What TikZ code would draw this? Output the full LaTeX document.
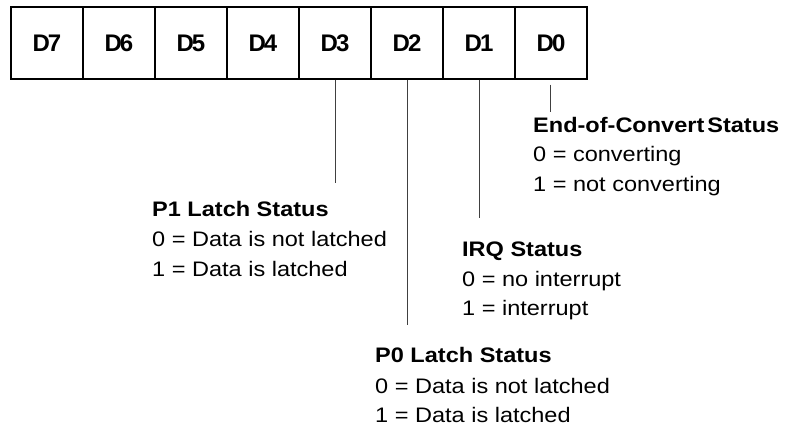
\documentclass[tikz,border=0pt]{standalone}
\usepackage{fontspec}
\setmainfont{Liberation Sans}[FakeStretch=1.12]
\newfontfamily\lblfont{Liberation Sans}
\begin{document}
\begin{tikzpicture}[x=1bp,y=-1bp,
  cell/.style={draw, line width=1.5bp, minimum width=72bp, minimum height=72bp, inner sep=0pt,
    font=\lblfont\fontsize{24bp}{28bp}\selectfont\bfseries},
  lead/.style={line width=0.9bp, draw=black!75},
  ttl/.style={anchor=base west, inner sep=0pt, font=\fontsize{21bp}{25bp}\selectfont\bfseries},
  info/.style={anchor=base west, inner sep=0pt, font=\fontsize{21bp}{25bp}\selectfont}]
\useasboundingbox (0,0) rectangle (788,434);
% register cells
\node[cell] (d7) at (47,43)  {D\kern-2bp 7};
\node[cell] (d6) at (119,43) {D\kern-2bp 6};
\node[cell] (d5) at (191,43) {D\kern-2bp 5};
\node[cell] (d4) at (263,43) {D\kern-2bp 4};
\node[cell] (d3) at (335,43) {D\kern-2bp 3};
\node[cell] (d2) at (407,43) {D\kern-2bp 2};
\node[cell] (d1) at (479,43) {D\kern-2bp 1};
\node[cell] (d0) at (551,43) {D\kern-2bp 0};
% end points of leaders
\coordinate (e3) at (335,183);
\coordinate (e2) at (407,325);
\coordinate (e1) at (479,218);
\coordinate (e0) at (550,112);
\draw[lead] (d3.south) -- (e3);
\draw[lead] (d2.south) -- (e2);
\draw[lead] (d1.south) -- (e1);
\draw[lead] ([yshift=-5bp]d0.south -| e0) -- (e0);
% End-of-Convert
\node[ttl]  (eoc)  at (533,133) {End-of-Convert\kern3bp Status};
\node[info] (eoca) at (533,162) {0 = converting};
\node[info] (eocb) at (533,192) {1 = not converting};
% P1
\node[ttl]  (p1)  at (152,217) {P1 Latch Status};
\node[info] (p1a) at (152,247) {0 = Data is not latched};
\node[info] (p1b) at (152,277) {1 = Data is latched};
% IRQ
\node[ttl]  (irq)  at (462,257) {IRQ Status};
\node[info] (irqa) at (462,287) {0 = no interrupt};
\node[info] (irqb) at (462,316) {1 = interrupt};
% P0
\node[ttl]  (p0)  at (375,363) {P0 Latch Status};
\node[info] (p0a) at (375,393) {0 = Data is not latched};
\node[info] (p0b) at (375,422) {1 = Data is latched};
\end{tikzpicture}
\end{document}
